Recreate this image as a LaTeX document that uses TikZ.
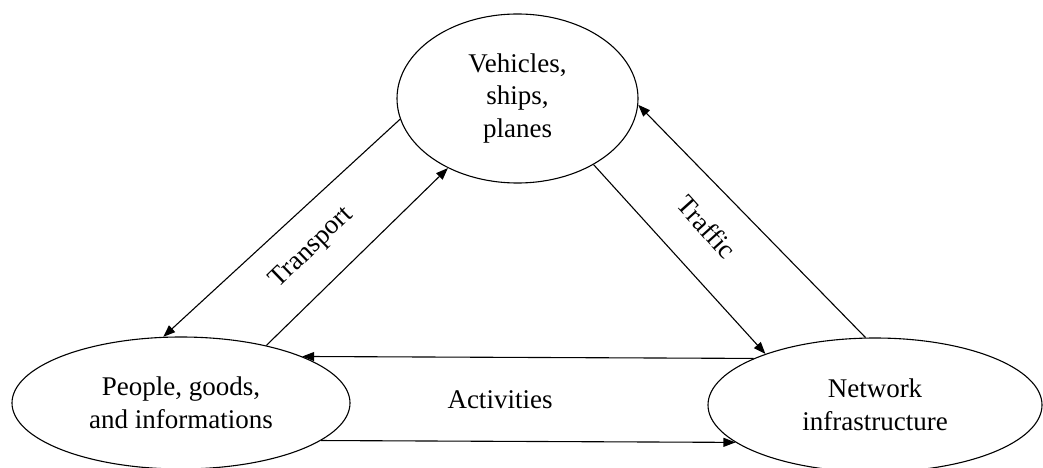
\documentclass[tikz,border=0pt]{standalone}
\usepackage{fontspec}
\setmainfont{Liberation Serif}
\usetikzlibrary{arrows.meta,shapes.geometric}
\begin{document}
\begin{tikzpicture}[x=1pt,y=-1pt,
  ell/.style={draw,ellipse,line width=1.1pt,inner sep=0pt,align=center,
    font=\fontsize{27}{32.5}\selectfont},
  conn/.style={line width=1.1pt,-{Triangle[length=12pt,width=9pt]}},
  lbl/.style={font=\fontsize{27}{32.5}\selectfont,inner sep=0pt}]
\useasboundingbox (0,0) rectangle (1043,468);
\node[ell,minimum width=241pt,minimum height=169pt] (veh) at (517.5,98.5) {Vehicles,\\ships,\\planes};
\node[ell,minimum width=338pt,minimum height=132pt] (ppl) at (181,403) {People, goods,\\and informations};
\node[ell,minimum width=334pt,minimum height=134pt] (net) at (875,405) {Network\\infrastructure};
\draw[conn] (veh.190) -- (ppl.105);
\draw[conn] (ppl.34) -- (veh.225);
\draw[conn] (veh.-41) -- (net.155);
\draw[conn] (net.98) -- (veh.-3);
\draw[conn] (net.159) -- (ppl.21);
\draw[conn] (ppl.-15) -- (net.195.4);
\node[lbl,rotate=44] (ltr) at (312,248) {Transport};
\node[lbl,rotate=-48] (ltf) at (707,227) {Traffic};
\node[lbl] (lac) at (500,400) {Activities};
\end{tikzpicture}
\end{document}
